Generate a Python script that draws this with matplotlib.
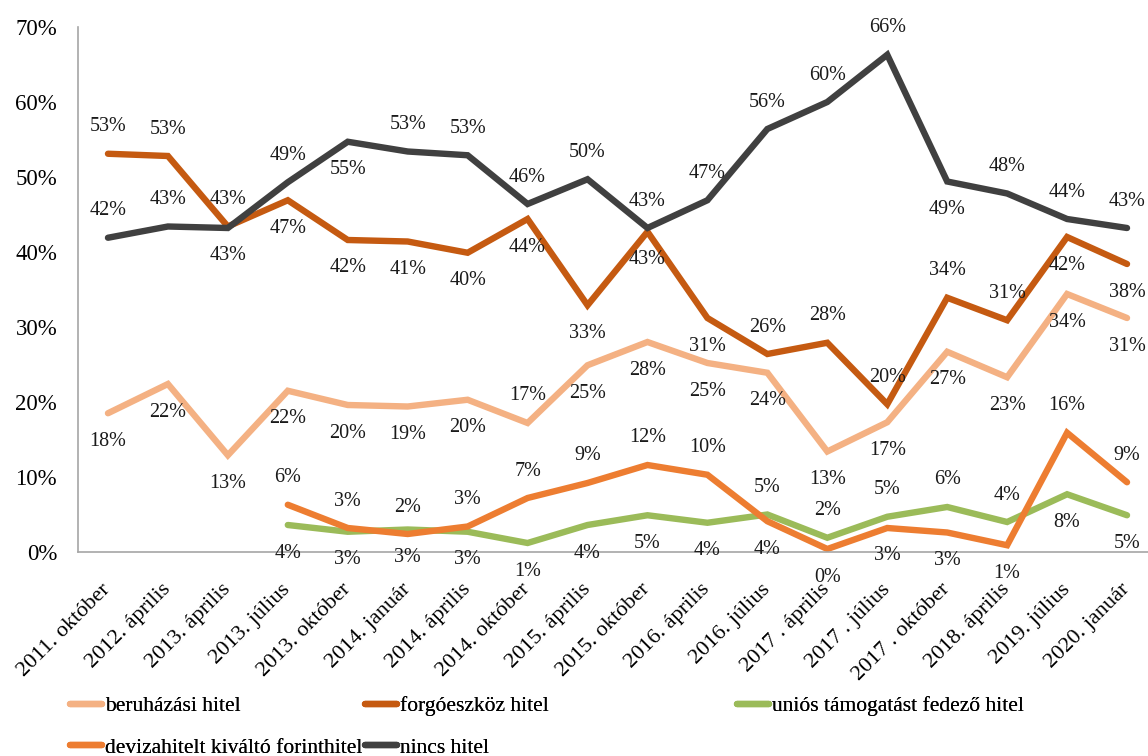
import matplotlib
matplotlib.use("Agg")
import matplotlib.pyplot as plt

plt.rcParams['font.family'] = ['Liberation Serif', 'DejaVu Serif']

kategoriak = ['2011. október', '2012. április', '2013. április', '2013. július',
              '2013. október', '2014. január', '2014. április', '2014. október',
              '2015. április', '2015. október', '2016. április', '2016. július',
              '2017 . április', '2017 . július', '2017 . október', '2018. április',
              '2019. július', '2020. január']

beruhazasi = [18.5, 22.4, 12.9, 21.5, 19.6, 19.4, 20.3, 17.2, 24.9, 28.0,
              25.2, 23.9, 13.4, 17.3, 26.7, 23.3, 34.4, 31.2]
forgoeszkoz = [53.1, 52.8, 43.4, 46.9, 41.6, 41.4, 39.9, 44.4, 32.9, 42.7,
               31.2, 26.4, 27.9, 19.7, 33.9, 30.9, 42.0, 38.4]
unios = [None, None, None, 3.6, 2.7, 3.0, 2.7, 1.2, 3.6, 4.9,
         3.9, 5.0, 1.9, 4.7, 6.0, 4.0, 7.7, 4.9]
deviza = [None, None, None, 6.3, 3.2, 2.4, 3.4, 7.2, 9.2, 11.6,
          10.3, 4.1, 0.4, 3.2, 2.6, 0.9, 15.9, 9.3]
nincs = [41.9, 43.4, 43.2, 49.3, 54.7, 53.4, 52.9, 46.4, 49.7, 43.2,
         46.9, 56.4, 60.0, 66.3, 49.4, 47.8, 44.4, 43.2]

# cimke helye: a = pont felett, b = pont alatt
sorozatok = [
    ('beruházási hitel', beruhazasi, '#F4B183', 'bbbbbbbabbbbbbbbbb'),
    ('forgóeszköz hitel', forgoeszkoz, '#C55A11', 'aaabbbbbbbbaaaaabb'),
    ('uniós támogatást fedező hitel', unios, '#9BBB59', '---bbbbbbbbaaaaabb'),
    ('devizahitelt kiváltó forinthitel', deviza, '#ED7D31', '---aaaaaaaabbbbbaa'),
    ('nincs hitel', nincs, '#404040', 'aababaaaaaaaaabaaa'),
]

fig = plt.figure(figsize=(11.48, 7.56), dpi=100)
ax = fig.add_axes([78 / 1148, 204 / 756, 1079 / 1148, 525 / 756])

x = list(range(len(kategoriak)))
vonalak = {}
for nev, ertekek, szin, hely in sorozatok:
    xs = [i for i, v in zip(x, ertekek) if v is not None]
    ys = [v for v in ertekek if v is not None]
    ln, = ax.plot(xs, ys, color=szin, lw=4.6, solid_capstyle='round',
                  solid_joinstyle='miter', label=nev)
    vonalak[nev] = ln
    for xi, yi in zip(xs, ys):
        dy = 27 if hely[xi] == 'a' else -28
        ax.annotate(f'{round(yi):.0f}%', (xi, yi), xytext=(0, dy),
                    textcoords='offset pixels', ha='center', va='center',
                    fontsize=14.5, color='#1a1a1a')

ax.set_xlim(-0.5, len(kategoriak) - 0.5)
ax.set_ylim(0, 70)
ax.set_yticks(range(0, 71, 10))
ax.set_yticklabels([f'{t}%' for t in range(0, 71, 10)], fontsize=16.5)
ax.set_xticks(x)
ax.set_xticklabels(kategoriak, rotation=45, ha='right', rotation_mode='anchor',
                   va='center', fontsize=16)
ax.tick_params(axis='y', length=0, pad=15)
ax.tick_params(axis='x', length=0, pad=25)
for s in ['top', 'right']:
    ax.spines[s].set_visible(False)
for s in ['left', 'bottom']:
    ax.spines[s].set_color('#A6A6A6')
    ax.spines[s].set_linewidth(1.2)

oszlopok = [
    (70, ['beruházási hitel', 'devizahitelt kiváltó forinthitel']),
    (365, ['forgóeszköz hitel', 'nincs hitel']),
    (737, ['uniós támogatást fedező hitel']),
]
for xp, nevek in oszlopok:
    leg = fig.legend([vonalak[n] for n in nevek], nevek, loc='upper left',
                     bbox_to_anchor=(xp / 1148, 1 - 696 / 756), frameon=False,
                     fontsize=15.5, handlelength=1.5, handletextpad=0.12,
                     borderpad=0, borderaxespad=0, labelspacing=1.0)
    fig.add_artist(leg)

fig.savefig('out.png', dpi=100)
